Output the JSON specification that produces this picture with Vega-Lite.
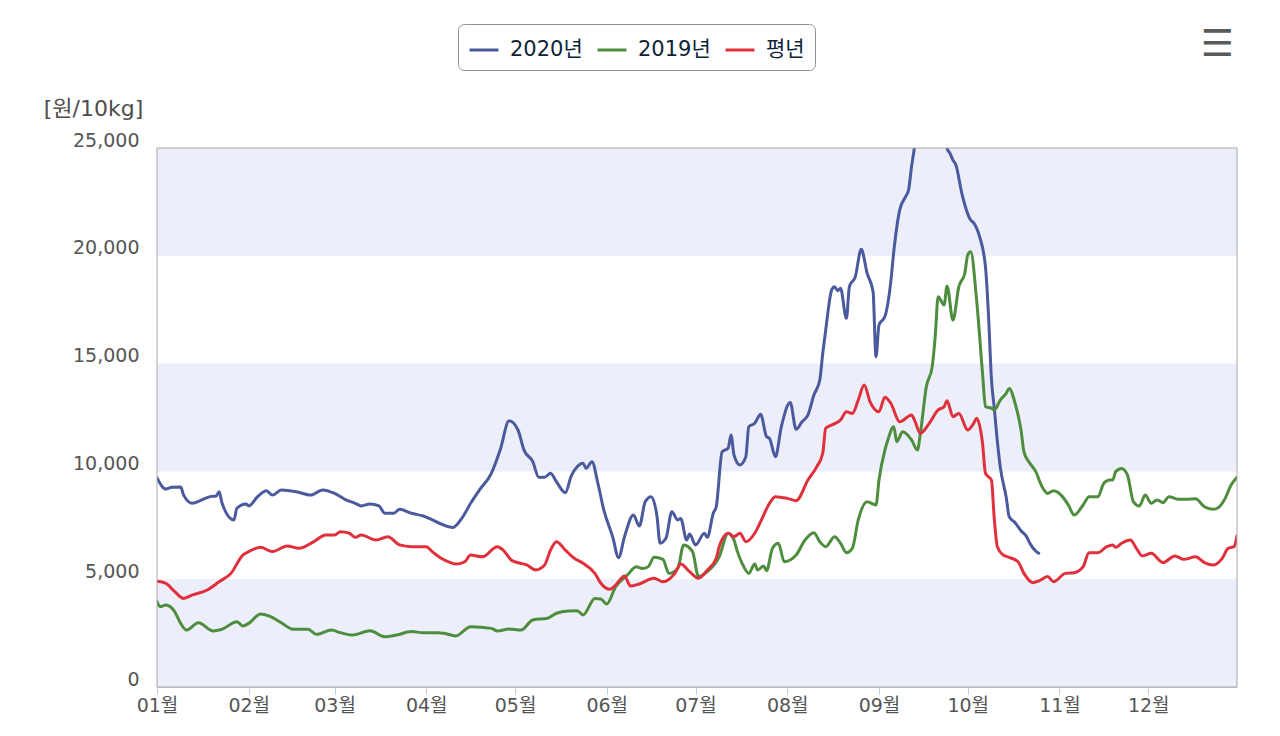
{
"$schema":"https://vega.github.io/schema/vega-lite/v6.json",
"width":1080,"height":539,
"autosize":{"type":"none"},
"padding":{"left":157,"top":148,"right":43,"bottom":49},
"background":"white",
"title":{"text":"☰","anchor":"end","frame":"group","orient":"top","fontSize":37,"color":"#5a5a5a","font":"DejaVu Sans","offset":-40,"dx":-3,"fontWeight":"normal"},
"datasets":{
"bands":[{"lo":0,"hi":5000},{"lo":10000,"hi":15000},{"lo":20000,"hi":25000}],
"frame":[{"lo":0,"hi":25000}],
"series":[
{"d":"2020-01-01","s":"2020년","v":9700},{"d":"2020-01-04","s":"2020년","v":9180},{"d":"2020-01-06","s":"2020년","v":9260},{"d":"2020-01-09","s":"2020년","v":9280},{"d":"2020-01-10","s":"2020년","v":8900},{"d":"2020-01-13","s":"2020년","v":8520},{"d":"2020-01-16","s":"2020년","v":8670},{"d":"2020-01-19","s":"2020년","v":8830},{"d":"2020-01-21","s":"2020년","v":8860},{"d":"2020-01-22","s":"2020년","v":9060},{"d":"2020-01-23","s":"2020년","v":8520},{"d":"2020-01-27","s":"2020년","v":7745},{"d":"2020-01-28","s":"2020년","v":8290},{"d":"2020-01-31","s":"2020년","v":8490},
{"d":"2020-02-01","s":"2020년","v":8400},{"d":"2020-02-04","s":"2020년","v":8830},{"d":"2020-02-07","s":"2020년","v":9100},{"d":"2020-02-09","s":"2020년","v":8900},{"d":"2020-02-12","s":"2020년","v":9140},{"d":"2020-02-17","s":"2020년","v":9060},{"d":"2020-02-22","s":"2020년","v":8900},{"d":"2020-02-26","s":"2020년","v":9140},
{"d":"2020-03-01","s":"2020년","v":8980},{"d":"2020-03-05","s":"2020년","v":8670},{"d":"2020-03-08","s":"2020년","v":8520},{"d":"2020-03-10","s":"2020년","v":8400},{"d":"2020-03-13","s":"2020년","v":8490},{"d":"2020-03-16","s":"2020년","v":8400},{"d":"2020-03-18","s":"2020년","v":8060},{"d":"2020-03-21","s":"2020년","v":8060},{"d":"2020-03-23","s":"2020년","v":8240},{"d":"2020-03-27","s":"2020년","v":8060},{"d":"2020-03-31","s":"2020년","v":7930},
{"d":"2020-04-02","s":"2020년","v":7820},{"d":"2020-04-06","s":"2020년","v":7560},{"d":"2020-04-10","s":"2020년","v":7400},{"d":"2020-04-13","s":"2020년","v":7820},{"d":"2020-04-16","s":"2020년","v":8520},{"d":"2020-04-19","s":"2020년","v":9140},{"d":"2020-04-23","s":"2020년","v":9910},{"d":"2020-04-26","s":"2020년","v":11000},{"d":"2020-04-29","s":"2020년","v":12350},
{"d":"2020-05-02","s":"2020년","v":11920},{"d":"2020-05-04","s":"2020년","v":11000},{"d":"2020-05-07","s":"2020년","v":10450},{"d":"2020-05-09","s":"2020년","v":9730},{"d":"2020-05-11","s":"2020년","v":9730},{"d":"2020-05-13","s":"2020년","v":9910},{"d":"2020-05-15","s":"2020년","v":9520},{"d":"2020-05-18","s":"2020년","v":9010},{"d":"2020-05-20","s":"2020년","v":9790},{"d":"2020-05-22","s":"2020년","v":10220},{"d":"2020-05-24","s":"2020년","v":10380},{"d":"2020-05-25","s":"2020년","v":10140},{"d":"2020-05-27","s":"2020년","v":10450},{"d":"2020-05-29","s":"2020년","v":9450},{"d":"2020-05-31","s":"2020년","v":8210},
{"d":"2020-06-03","s":"2020년","v":6970},{"d":"2020-06-05","s":"2020년","v":6000},{"d":"2020-06-07","s":"2020년","v":6970},{"d":"2020-06-10","s":"2020년","v":7980},{"d":"2020-06-12","s":"2020년","v":7470},{"d":"2020-06-14","s":"2020년","v":8590},{"d":"2020-06-16","s":"2020년","v":8830},{"d":"2020-06-18","s":"2020년","v":7900},{"d":"2020-06-19","s":"2020년","v":6670},{"d":"2020-06-21","s":"2020년","v":6900},{"d":"2020-06-23","s":"2020년","v":8130},{"d":"2020-06-25","s":"2020년","v":7750},{"d":"2020-06-26","s":"2020년","v":7820},{"d":"2020-06-28","s":"2020년","v":6820},{"d":"2020-06-29","s":"2020년","v":7100},
{"d":"2020-07-01","s":"2020년","v":6590},{"d":"2020-07-04","s":"2020년","v":7130},{"d":"2020-07-05","s":"2020년","v":6940},{"d":"2020-07-07","s":"2020년","v":8060},{"d":"2020-07-08","s":"2020년","v":8360},{"d":"2020-07-10","s":"2020년","v":10910},{"d":"2020-07-12","s":"2020년","v":11070},{"d":"2020-07-13","s":"2020년","v":11690},{"d":"2020-07-14","s":"2020년","v":10760},{"d":"2020-07-16","s":"2020년","v":10300},{"d":"2020-07-18","s":"2020년","v":10680},{"d":"2020-07-19","s":"2020년","v":12070},{"d":"2020-07-21","s":"2020년","v":12230},{"d":"2020-07-23","s":"2020년","v":12650},{"d":"2020-07-25","s":"2020년","v":11610},{"d":"2020-07-26","s":"2020년","v":11530},{"d":"2020-07-28","s":"2020년","v":10680},{"d":"2020-07-30","s":"2020년","v":12070},
{"d":"2020-08-02","s":"2020년","v":13190},{"d":"2020-08-04","s":"2020년","v":11950},{"d":"2020-08-06","s":"2020년","v":12300},{"d":"2020-08-08","s":"2020년","v":12620},{"d":"2020-08-10","s":"2020년","v":13540},{"d":"2020-08-12","s":"2020년","v":14240},{"d":"2020-08-13","s":"2020년","v":15480},{"d":"2020-08-14","s":"2020년","v":16560},{"d":"2020-08-16","s":"2020년","v":18410},{"d":"2020-08-17","s":"2020년","v":18570},{"d":"2020-08-18","s":"2020년","v":18380},{"d":"2020-08-19","s":"2020년","v":18490},{"d":"2020-08-21","s":"2020년","v":17100},{"d":"2020-08-22","s":"2020년","v":18570},{"d":"2020-08-24","s":"2020년","v":19030},{"d":"2020-08-26","s":"2020년","v":20300},{"d":"2020-08-28","s":"2020년","v":19190},{"d":"2020-08-30","s":"2020년","v":18340},{"d":"2020-08-31","s":"2020년","v":15320},
{"d":"2020-09-01","s":"2020년","v":16790},{"d":"2020-09-03","s":"2020년","v":17180},{"d":"2020-09-05","s":"2020년","v":18800},{"d":"2020-09-06","s":"2020년","v":20190},{"d":"2020-09-08","s":"2020년","v":22120},{"d":"2020-09-10","s":"2020년","v":22740},{"d":"2020-09-11","s":"2020년","v":23050},{"d":"2020-09-12","s":"2020년","v":24130},{"d":"2020-09-13","s":"2020년","v":25060},{"d":"2020-09-14","s":"2020년","v":26500},{"d":"2020-09-18","s":"2020년","v":28000},{"d":"2020-09-23","s":"2020년","v":26500},{"d":"2020-09-24","s":"2020년","v":24990},{"d":"2020-09-25","s":"2020년","v":24750},{"d":"2020-09-26","s":"2020년","v":24440},{"d":"2020-09-27","s":"2020년","v":24210},{"d":"2020-09-29","s":"2020년","v":22900},
{"d":"2020-10-02","s":"2020년","v":21660},{"d":"2020-10-03","s":"2020년","v":21530},{"d":"2020-10-05","s":"2020년","v":20890},{"d":"2020-10-07","s":"2020년","v":19480},{"d":"2020-10-08","s":"2020년","v":17300},{"d":"2020-10-09","s":"2020년","v":14300},{"d":"2020-10-10","s":"2020년","v":12900},{"d":"2020-10-11","s":"2020년","v":11400},{"d":"2020-10-12","s":"2020년","v":10200},{"d":"2020-10-14","s":"2020년","v":8800},{"d":"2020-10-15","s":"2020년","v":7900},{"d":"2020-10-17","s":"2020년","v":7620},{"d":"2020-10-19","s":"2020년","v":7250},{"d":"2020-10-21","s":"2020년","v":6950},{"d":"2020-10-22","s":"2020년","v":6670},{"d":"2020-10-24","s":"2020년","v":6300},{"d":"2020-10-25","s":"2020년","v":6200},

{"d":"2020-01-01","s":"2019년","v":3960},{"d":"2020-01-02","s":"2019년","v":3730},{"d":"2020-01-04","s":"2019년","v":3800},{"d":"2020-01-07","s":"2019년","v":3490},{"d":"2020-01-09","s":"2019년","v":2950},{"d":"2020-01-11","s":"2019년","v":2640},{"d":"2020-01-15","s":"2019년","v":2980},{"d":"2020-01-20","s":"2019년","v":2600},{"d":"2020-01-23","s":"2019년","v":2680},{"d":"2020-01-28","s":"2019년","v":3030},{"d":"2020-01-30","s":"2019년","v":2830},
{"d":"2020-02-01","s":"2019년","v":2950},{"d":"2020-02-05","s":"2019년","v":3390},{"d":"2020-02-08","s":"2019년","v":3290},{"d":"2020-02-12","s":"2019년","v":2980},{"d":"2020-02-16","s":"2019년","v":2680},{"d":"2020-02-21","s":"2019년","v":2680},{"d":"2020-02-24","s":"2019년","v":2440},{"d":"2020-02-29","s":"2019년","v":2640},
{"d":"2020-03-03","s":"2019년","v":2520},{"d":"2020-03-07","s":"2019년","v":2410},{"d":"2020-03-13","s":"2019년","v":2610},{"d":"2020-03-18","s":"2019년","v":2330},{"d":"2020-03-22","s":"2019년","v":2410},{"d":"2020-03-27","s":"2019년","v":2570},{"d":"2020-03-31","s":"2019년","v":2520},
{"d":"2020-04-05","s":"2019년","v":2520},{"d":"2020-04-07","s":"2019년","v":2490},{"d":"2020-04-11","s":"2019년","v":2370},{"d":"2020-04-16","s":"2019년","v":2800},{"d":"2020-04-23","s":"2019년","v":2720},{"d":"2020-04-25","s":"2019년","v":2600},{"d":"2020-04-29","s":"2019년","v":2690},
{"d":"2020-05-03","s":"2019년","v":2640},{"d":"2020-05-07","s":"2019년","v":3110},{"d":"2020-05-12","s":"2019년","v":3190},{"d":"2020-05-15","s":"2019년","v":3420},{"d":"2020-05-19","s":"2019년","v":3530},{"d":"2020-05-22","s":"2019년","v":3540},{"d":"2020-05-24","s":"2019년","v":3340},{"d":"2020-05-28","s":"2019년","v":4110},{"d":"2020-05-30","s":"2019년","v":4080},
{"d":"2020-06-01","s":"2019년","v":3850},{"d":"2020-06-04","s":"2019년","v":4650},{"d":"2020-06-08","s":"2019년","v":5200},{"d":"2020-06-11","s":"2019년","v":5580},{"d":"2020-06-13","s":"2019년","v":5500},{"d":"2020-06-15","s":"2019년","v":5580},{"d":"2020-06-17","s":"2019년","v":6020},{"d":"2020-06-20","s":"2019년","v":5920},{"d":"2020-06-22","s":"2019년","v":5270},{"d":"2020-06-25","s":"2019년","v":5500},{"d":"2020-06-27","s":"2019년","v":6590},{"d":"2020-06-30","s":"2019년","v":6280},
{"d":"2020-07-02","s":"2019년","v":5120},{"d":"2020-07-05","s":"2019년","v":5350},{"d":"2020-07-09","s":"2019년","v":6040},{"d":"2020-07-12","s":"2019년","v":7130},{"d":"2020-07-14","s":"2019년","v":6820},{"d":"2020-07-15","s":"2019년","v":6350},{"d":"2020-07-17","s":"2019년","v":5660},{"d":"2020-07-19","s":"2019년","v":5270},{"d":"2020-07-21","s":"2019년","v":5700},{"d":"2020-07-22","s":"2019년","v":5430},{"d":"2020-07-24","s":"2019년","v":5610},{"d":"2020-07-25","s":"2019년","v":5390},{"d":"2020-07-27","s":"2019년","v":6430},{"d":"2020-07-29","s":"2019년","v":6670},{"d":"2020-07-31","s":"2019년","v":5810},
{"d":"2020-08-04","s":"2019년","v":6120},{"d":"2020-08-07","s":"2019년","v":6820},{"d":"2020-08-10","s":"2019년","v":7160},{"d":"2020-08-12","s":"2019년","v":6740},{"d":"2020-08-14","s":"2019년","v":6510},{"d":"2020-08-17","s":"2019년","v":6970},{"d":"2020-08-19","s":"2019년","v":6670},{"d":"2020-08-21","s":"2019년","v":6230},{"d":"2020-08-23","s":"2019년","v":6430},{"d":"2020-08-25","s":"2019년","v":7750},{"d":"2020-08-28","s":"2019년","v":8590},{"d":"2020-08-31","s":"2019년","v":8440},
{"d":"2020-09-01","s":"2019년","v":9600},{"d":"2020-09-03","s":"2019년","v":10990},{"d":"2020-09-04","s":"2019년","v":11460},{"d":"2020-09-06","s":"2019년","v":12070},{"d":"2020-09-07","s":"2019년","v":11380},{"d":"2020-09-09","s":"2019년","v":11840},{"d":"2020-09-12","s":"2019년","v":11460},{"d":"2020-09-14","s":"2019년","v":10990},{"d":"2020-09-15","s":"2019년","v":11770},{"d":"2020-09-17","s":"2019년","v":13930},{"d":"2020-09-19","s":"2019년","v":14860},{"d":"2020-09-20","s":"2019년","v":16250},{"d":"2020-09-21","s":"2019년","v":18100},{"d":"2020-09-23","s":"2019년","v":17720},{"d":"2020-09-24","s":"2019년","v":18600},{"d":"2020-09-26","s":"2019년","v":17020},{"d":"2020-09-28","s":"2019년","v":18570},{"d":"2020-09-30","s":"2019년","v":19190},
{"d":"2020-10-01","s":"2019년","v":20040},{"d":"2020-10-02","s":"2019년","v":20190},{"d":"2020-10-04","s":"2019년","v":17950},{"d":"2020-10-06","s":"2019년","v":14550},{"d":"2020-10-07","s":"2019년","v":13000},{"d":"2020-10-09","s":"2019년","v":12930},{"d":"2020-10-10","s":"2019년","v":12850},{"d":"2020-10-12","s":"2019년","v":13310},{"d":"2020-10-14","s":"2019년","v":13620},{"d":"2020-10-15","s":"2019년","v":13850},{"d":"2020-10-17","s":"2019년","v":13160},{"d":"2020-10-19","s":"2019년","v":11920},{"d":"2020-10-20","s":"2019년","v":10910},{"d":"2020-10-22","s":"2019년","v":10380},{"d":"2020-10-24","s":"2019년","v":9990},{"d":"2020-10-26","s":"2019년","v":9320},{"d":"2020-10-28","s":"2019년","v":8980},{"d":"2020-10-30","s":"2019년","v":9100},
{"d":"2020-11-02","s":"2019년","v":8830},{"d":"2020-11-04","s":"2019년","v":8440},{"d":"2020-11-06","s":"2019년","v":7980},{"d":"2020-11-09","s":"2019년","v":8440},{"d":"2020-11-11","s":"2019년","v":8830},{"d":"2020-11-14","s":"2019년","v":8830},{"d":"2020-11-16","s":"2019년","v":9450},{"d":"2020-11-18","s":"2019년","v":9600},{"d":"2020-11-19","s":"2019년","v":9600},{"d":"2020-11-20","s":"2019년","v":9990},{"d":"2020-11-22","s":"2019년","v":10140},{"d":"2020-11-24","s":"2019년","v":9830},{"d":"2020-11-26","s":"2019년","v":8590},{"d":"2020-11-28","s":"2019년","v":8400},{"d":"2020-11-30","s":"2019년","v":8900},
{"d":"2020-12-02","s":"2019년","v":8520},{"d":"2020-12-04","s":"2019년","v":8670},{"d":"2020-12-06","s":"2019년","v":8550},{"d":"2020-12-08","s":"2019년","v":8830},{"d":"2020-12-11","s":"2019년","v":8710},{"d":"2020-12-14","s":"2019년","v":8710},{"d":"2020-12-17","s":"2019년","v":8730},{"d":"2020-12-20","s":"2019년","v":8360},{"d":"2020-12-23","s":"2019년","v":8240},{"d":"2020-12-25","s":"2019년","v":8360},{"d":"2020-12-27","s":"2019년","v":8750},{"d":"2020-12-29","s":"2019년","v":9370},{"d":"2020-12-31","s":"2019년","v":9730},

{"d":"2020-01-01","s":"평년","v":4900},{"d":"2020-01-04","s":"평년","v":4810},{"d":"2020-01-07","s":"평년","v":4420},{"d":"2020-01-10","s":"평년","v":4110},{"d":"2020-01-13","s":"평년","v":4270},{"d":"2020-01-18","s":"평년","v":4500},{"d":"2020-01-22","s":"평년","v":4880},{"d":"2020-01-26","s":"평년","v":5270},{"d":"2020-01-30","s":"평년","v":6120},
{"d":"2020-02-01","s":"평년","v":6280},{"d":"2020-02-05","s":"평년","v":6480},{"d":"2020-02-09","s":"평년","v":6280},{"d":"2020-02-14","s":"평년","v":6540},{"d":"2020-02-18","s":"평년","v":6430},{"d":"2020-02-23","s":"평년","v":6740},{"d":"2020-02-27","s":"평년","v":7050},
{"d":"2020-03-01","s":"평년","v":7050},{"d":"2020-03-03","s":"평년","v":7200},{"d":"2020-03-06","s":"평년","v":7130},{"d":"2020-03-08","s":"평년","v":6940},{"d":"2020-03-10","s":"평년","v":7050},{"d":"2020-03-15","s":"평년","v":6820},{"d":"2020-03-19","s":"평년","v":6970},{"d":"2020-03-23","s":"평년","v":6590},{"d":"2020-03-27","s":"평년","v":6510},
{"d":"2020-04-01","s":"평년","v":6510},{"d":"2020-04-03","s":"평년","v":6280},{"d":"2020-04-06","s":"평년","v":5970},{"d":"2020-04-09","s":"평년","v":5780},{"d":"2020-04-11","s":"평년","v":5700},{"d":"2020-04-14","s":"평년","v":5810},{"d":"2020-04-16","s":"평년","v":6120},{"d":"2020-04-20","s":"평년","v":6040},{"d":"2020-04-25","s":"평년","v":6510},{"d":"2020-04-27","s":"평년","v":6350},{"d":"2020-04-30","s":"평년","v":5860},
{"d":"2020-05-05","s":"평년","v":5660},{"d":"2020-05-08","s":"평년","v":5430},{"d":"2020-05-11","s":"평년","v":5660},{"d":"2020-05-13","s":"평년","v":6350},{"d":"2020-05-15","s":"평년","v":6740},{"d":"2020-05-18","s":"평년","v":6350},{"d":"2020-05-21","s":"평년","v":5970},{"d":"2020-05-24","s":"평년","v":5740},{"d":"2020-05-28","s":"평년","v":5270},{"d":"2020-05-30","s":"평년","v":4810},
{"d":"2020-06-02","s":"평년","v":4530},{"d":"2020-06-04","s":"평년","v":4730},{"d":"2020-06-07","s":"평년","v":5150},{"d":"2020-06-09","s":"평년","v":4680},{"d":"2020-06-12","s":"평년","v":4780},{"d":"2020-06-17","s":"평년","v":5040},{"d":"2020-06-20","s":"평년","v":4880},{"d":"2020-06-24","s":"평년","v":5270},{"d":"2020-06-26","s":"평년","v":5700},{"d":"2020-06-29","s":"평년","v":5350},
{"d":"2020-07-02","s":"평년","v":5040},{"d":"2020-07-05","s":"평년","v":5430},{"d":"2020-07-08","s":"평년","v":5970},{"d":"2020-07-09","s":"평년","v":6510},{"d":"2020-07-12","s":"평년","v":7130},{"d":"2020-07-14","s":"평년","v":6970},{"d":"2020-07-16","s":"평년","v":7130},{"d":"2020-07-18","s":"평년","v":6740},{"d":"2020-07-21","s":"평년","v":7130},{"d":"2020-07-23","s":"평년","v":7670},{"d":"2020-07-26","s":"평년","v":8520},{"d":"2020-07-28","s":"평년","v":8830},
{"d":"2020-08-01","s":"평년","v":8750},{"d":"2020-08-04","s":"평년","v":8640},{"d":"2020-08-08","s":"평년","v":9600},{"d":"2020-08-11","s":"평년","v":10220},{"d":"2020-08-13","s":"평년","v":10840},{"d":"2020-08-14","s":"평년","v":12000},{"d":"2020-08-16","s":"평년","v":12150},{"d":"2020-08-19","s":"평년","v":12380},{"d":"2020-08-21","s":"평년","v":12770},{"d":"2020-08-23","s":"평년","v":12690},{"d":"2020-08-25","s":"평년","v":13310},{"d":"2020-08-27","s":"평년","v":14010},{"d":"2020-08-29","s":"평년","v":13230},
{"d":"2020-09-01","s":"평년","v":12770},{"d":"2020-09-03","s":"평년","v":13440},{"d":"2020-09-05","s":"평년","v":13160},{"d":"2020-09-08","s":"평년","v":12300},{"d":"2020-09-12","s":"평년","v":12620},{"d":"2020-09-13","s":"평년","v":12380},{"d":"2020-09-15","s":"평년","v":11770},{"d":"2020-09-18","s":"평년","v":12230},{"d":"2020-09-21","s":"평년","v":12850},{"d":"2020-09-23","s":"평년","v":13000},{"d":"2020-09-24","s":"평년","v":13280},{"d":"2020-09-26","s":"평년","v":12540},{"d":"2020-09-28","s":"평년","v":12690},
{"d":"2020-10-01","s":"평년","v":11920},{"d":"2020-10-03","s":"평년","v":12230},{"d":"2020-10-04","s":"평년","v":12460},{"d":"2020-10-06","s":"평년","v":11300},{"d":"2020-10-07","s":"평년","v":9910},{"d":"2020-10-09","s":"평년","v":9600},{"d":"2020-10-10","s":"평년","v":7750},{"d":"2020-10-11","s":"평년","v":6510},{"d":"2020-10-13","s":"평년","v":6120},{"d":"2020-10-15","s":"평년","v":6015},{"d":"2020-10-18","s":"평년","v":5810},{"d":"2020-10-20","s":"평년","v":5270},{"d":"2020-10-23","s":"평년","v":4840},{"d":"2020-10-25","s":"평년","v":4920},{"d":"2020-10-28","s":"평년","v":5120},{"d":"2020-10-30","s":"평년","v":4880},
{"d":"2020-11-03","s":"평년","v":5270},{"d":"2020-11-06","s":"평년","v":5300},{"d":"2020-11-09","s":"평년","v":5580},{"d":"2020-11-11","s":"평년","v":6230},{"d":"2020-11-14","s":"평년","v":6230},{"d":"2020-11-17","s":"평년","v":6510},{"d":"2020-11-19","s":"평년","v":6590},{"d":"2020-11-20","s":"평년","v":6480},{"d":"2020-11-22","s":"평년","v":6670},{"d":"2020-11-25","s":"평년","v":6820},{"d":"2020-11-27","s":"평년","v":6430},{"d":"2020-11-29","s":"평년","v":6080},
{"d":"2020-12-02","s":"평년","v":6200},{"d":"2020-12-06","s":"평년","v":5770},{"d":"2020-12-10","s":"평년","v":6080},{"d":"2020-12-13","s":"평년","v":5920},{"d":"2020-12-17","s":"평년","v":6040},{"d":"2020-12-20","s":"평년","v":5770},{"d":"2020-12-23","s":"평년","v":5660},{"d":"2020-12-26","s":"평년","v":5970},{"d":"2020-12-28","s":"평년","v":6430},{"d":"2020-12-30","s":"평년","v":6510},{"d":"2020-12-31","s":"평년","v":7000}
]},
"layer":[
{"data":{"name":"bands"},
 "mark":{"type":"rect","fill":"#eceef9"},
 "encoding":{
  "y":{"field":"lo","type":"quantitative","scale":{"domain":[0,25000],"nice":false,"zero":true},
   "axis":{"title":"[원/10kg]","titleAngle":0,"titleX":-64,"titleY":-40,"titleAlign":"center","titleBaseline":"middle",
    "titleFontSize":22,"titleFontWeight":"normal","titleColor":"#4d4d4d","titleFont":"DejaVu Sans, Noto Sans CJK KR",
    "values":[0,5000,10000,15000,20000,25000],"format":",.0f","labelFontSize":19,"labelColor":"#555555","labelFont":"DejaVu Sans, Noto Sans CJK KR",
    "labelPadding":18,"ticks":false,"domain":false,"grid":false,"labelBaseline":"alphabetic","labelOffset":-2}},
  "y2":{"field":"hi"}
 }},
{"data":{"name":"series"},
 "mark":{"type":"line","strokeWidth":3,"interpolate":"monotone","clip":true,"strokeJoin":"round","strokeCap":"round"},
 "encoding":{
  "x":{"field":"d","type":"temporal",
   "scale":{"type":"utc","nice":false,"domain":[{"year":2020,"month":1,"date":1,"utc":true},{"year":2020,"month":12,"date":31,"utc":true}]},
   "axis":{"title":null,"format":"%m월","tickCount":{"interval":"month","step":1},"labelFlush":false,"labelOverlap":false,"grid":false,
    "labelFontSize":19,"labelColor":"#555555","labelFont":"DejaVu Sans, Noto Sans CJK KR",
    "domainColor":"#c0d0e0","domainWidth":1,"tickColor":"#c0d0e0","tickSize":7,"labelPadding":2}},
  "y":{"field":"v","type":"quantitative","scale":{"domain":[0,25000],"nice":false,"zero":true},
   "axis":{"title":"[원/10kg]","titleAngle":0,"titleX":-64,"titleY":-40,"titleAlign":"center","titleBaseline":"middle",
    "titleFontSize":22,"titleFontWeight":"normal","titleColor":"#4d4d4d","titleFont":"DejaVu Sans, Noto Sans CJK KR",
    "values":[0,5000,10000,15000,20000,25000],"format":",.0f","labelFontSize":19,"labelColor":"#555555","labelFont":"DejaVu Sans, Noto Sans CJK KR",
    "labelPadding":18,"ticks":false,"domain":false,"grid":false,"labelBaseline":"alphabetic","labelOffset":-2}},
  "color":{"field":"s","type":"nominal","sort":["2020년","2019년","평년"],
   "scale":{"domain":["2020년","2019년","평년"],"range":["#4a5a9c","#4e8c3e","#e0303c"]},
   "legend":{"title":null,"orient":"none","legendX":301,"legendY":-124,"direction":"horizontal",
    "strokeColor":"#909090","cornerRadius":6,"padding":10,"fillColor":"#ffffff",
    "symbolType":"stroke","symbolSize":841,"symbolStrokeWidth":3,
    "labelFontSize":21,"labelFont":"DejaVu Sans, Noto Sans CJK KR","labelColor":"#0d233a","labelOffset":10,"columnPadding":8}}
 }},
{"data":{"name":"frame"},
 "mark":{"type":"rect","fill":null,"fillOpacity":0,"stroke":"#a8a8a8","strokeWidth":1},
 "encoding":{
  "y":{"field":"lo","type":"quantitative","scale":{"domain":[0,25000],"nice":false,"zero":true},
   "axis":{"title":"[원/10kg]","titleAngle":0,"titleX":-64,"titleY":-40,"titleAlign":"center","titleBaseline":"middle",
    "titleFontSize":22,"titleFontWeight":"normal","titleColor":"#4d4d4d","titleFont":"DejaVu Sans, Noto Sans CJK KR",
    "values":[0,5000,10000,15000,20000,25000],"format":",.0f","labelFontSize":19,"labelColor":"#555555","labelFont":"DejaVu Sans, Noto Sans CJK KR",
    "labelPadding":18,"ticks":false,"domain":false,"grid":false,"labelBaseline":"alphabetic","labelOffset":-2}},
  "y2":{"field":"hi"}
 }}
],
"config":{"view":{"stroke":null},"font":"DejaVu Sans, Noto Sans CJK KR"}
}
